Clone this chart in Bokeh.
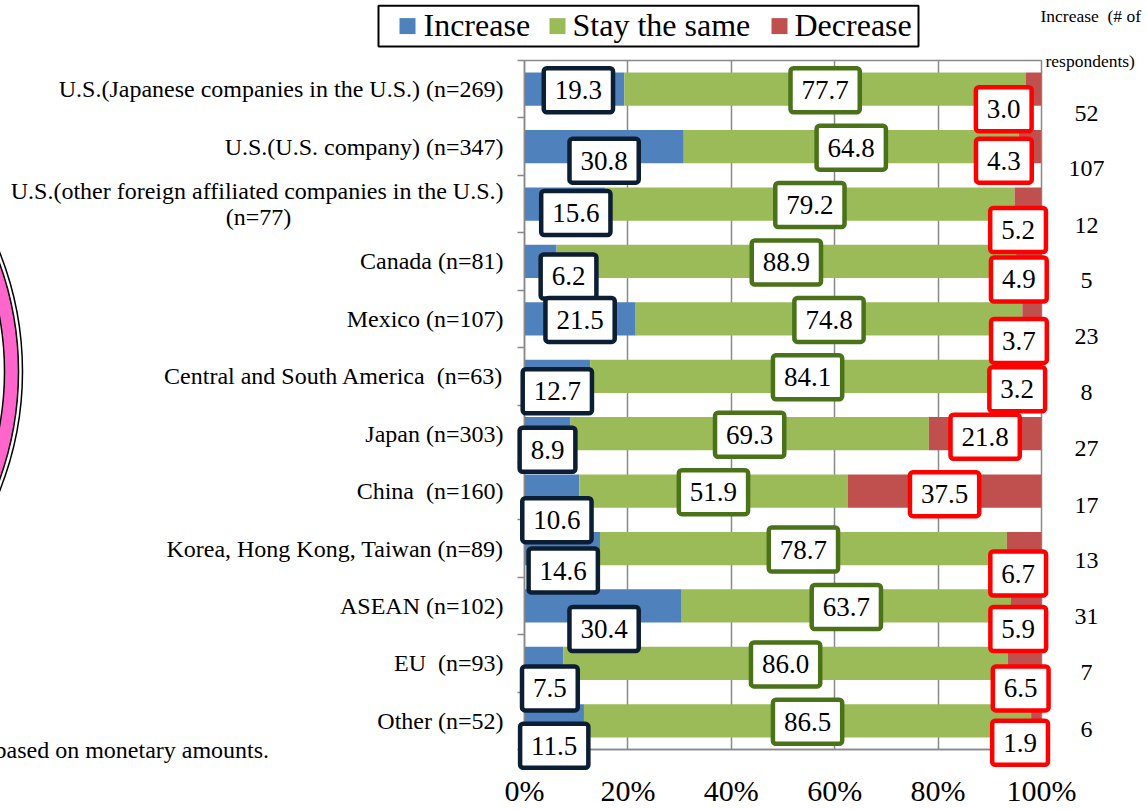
import numpy as np
from bokeh.plotting import figure
from bokeh.models import ColumnDataSource, Range1d, FixedTicker
from bokeh.core.properties import value
from bokeh.embed import file_html
from bokeh.resources import INLINE

# ---- data -------------------------------------------------------------
categories = [
    "U.S.(Japanese companies in the U.S.) (n=269)",
    "U.S.(U.S. company) (n=347)",
    "U.S.(other foreign affiliated companies in the U.S.)\n(n=77)",
    "Canada (n=81)",
    "Mexico (n=107)",
    "Central and South America  (n=63)",
    "Japan (n=303)",
    "China  (n=160)",
    "Korea, Hong Kong, Taiwan (n=89)",
    "ASEAN (n=102)",
    "EU  (n=93)",
    "Other (n=52)",
]
increase = [19.3, 30.8, 15.6, 6.2, 21.5, 12.7, 8.9, 10.6, 14.6, 30.4, 7.5, 11.5]
stay_same = [77.7, 64.8, 79.2, 88.9, 74.8, 84.1, 69.3, 51.9, 78.7, 63.7, 86.0, 86.5]
decrease = [3.0, 4.3, 5.2, 4.9, 3.7, 3.2, 21.8, 37.5, 6.7, 5.9, 6.5, 1.9]
respondents_increase = [52, 107, 12, 5, 23, 8, 27, 17, 13, 31, 7, 6]
x_ticks = [0, 20, 40, 60, 80, 100]
x_tick_labels = ["0%", "20%", "40%", "60%", "80%", "100%"]
series_names = ["Increase", "Stay the same", "Decrease"]

# ---- label nudges (pixels) so the boxed values do not collide ---------
inc_dx = [4, 0, 11, 28, 0, 0, 0, 5, 1, 1, 6, 0]
inc_dy = [1, 14, 9, 15, 1, 15, 16, 29, 22, 23, 25, 25]
stay_dx = [0] * 12
stay_dy = [1] * 12
dec_dx = [-30, -26, -10, -10, -13, -16, 0, 0, -6, -8, -4, -16]
dec_dy = [20, 14, 26, 18, 22, 13, 3, 3, 25, 23, 25, 22]
resp_dy = [24, 22, 21, 19, 18, 16, 15, 14, 12, 11, 9, 9]

# ---- layout -----------------------------------------------------------
SERIF = value("Liberation Serif")
W, H = 1147, 809
LEFT, RIGHT, TOP, BOTTOM = 524, 106, 60, 58
frame_w = W - LEFT - RIGHT
frame_h = H - TOP - BOTTOM
n = len(categories)
band_px = frame_h / n
px = 100.0 / frame_w          # data units per horizontal pixel


def sx(x_pix):
    """canvas pixel column -> data x"""
    return (x_pix - LEFT) * px


def sy(y_pix):
    """canvas pixel row -> data y (rows count downward)"""
    return (y_pix - TOP) / band_px


def keep_spaces(s):
    # SVG collapses runs of spaces; keep the wider gaps visible
    return s.replace("  ", " \u00a0")


COLORS = ["#4f81bd", "#9bbb59", "#c0504d"]
BOX_COLORS = ["#0c1e33", "#4a7219", "#ff0000"]
GRID = "#898989"

p = figure(width=W, height=H, x_range=Range1d(0, 100), y_range=Range1d(n, 0),
           output_backend="svg", toolbar_location=None,
           min_border_left=LEFT, min_border_right=RIGHT,
           min_border_top=TOP, min_border_bottom=BOTTOM)
p.outline_line_color = GRID
p.outline_line_width = 1.5
p.background_fill_color = "white"
p.border_fill_color = "white"

rows = np.arange(n) + 0.5
inc = np.array(increase)
sty = np.array(stay_same)
dec = np.array(decrease)
lefts = [np.zeros(n), inc, inc + sty]
rights = [inc, inc + sty, inc + sty + dec]
values = [inc, sty, dec]
dxs = [inc_dx, stay_dx, dec_dx]
dys = [inc_dy, stay_dy, dec_dy]

for k in range(3):
    src = ColumnDataSource(dict(y=rows, left=lefts[k], right=rights[k]))
    p.hbar(y="y", left="left", right="right", height=0.58, source=src,
           fill_color=COLORS[k], line_color=None)

# boxed value labels
for k in range(3):
    src = ColumnDataSource(dict(
        x=(lefts[k] + rights[k]) / 2, y=rows,
        text=[f"{v:.1f}" for v in values[k]],
        dx=dxs[k], dy=dys[k]))
    p.text(x="x", y="y", text="text", x_offset="dx", y_offset="dy", source=src,
           text_font=SERIF, text_font_size="27px", text_color="black",
           text_align="center", text_baseline="middle",
           background_fill_color="white", border_line_color=BOX_COLORS[k],
           border_line_width=4.5, padding=(11, 13), border_radius=3,
           level="overlay")

# axes
p.xaxis.ticker = FixedTicker(ticks=x_ticks)
p.xaxis.major_label_overrides = {t: s for t, s in zip(x_ticks, x_tick_labels)}
p.xaxis.major_label_text_font = "Liberation Serif"
p.xaxis.major_label_text_font_size = "30px"
p.xaxis.major_label_text_color = "black"
p.xaxis.major_label_standoff = 24
p.xaxis.major_tick_out = 0
p.xaxis.major_tick_in = 0
p.xaxis.minor_tick_line_color = None
p.xaxis.axis_line_color = GRID
p.xaxis.axis_line_width = 1.5

p.yaxis.ticker = FixedTicker(ticks=list(range(n + 1)))
p.yaxis.major_label_overrides = {i: "" for i in range(n + 1)}
p.yaxis.major_tick_out = 7
p.yaxis.major_tick_in = 0
p.yaxis.major_tick_line_color = GRID
p.yaxis.major_tick_line_width = 1.5
p.yaxis.minor_tick_line_color = None
p.yaxis.axis_line_color = GRID
p.yaxis.axis_line_width = 1.5

p.xgrid.grid_line_color = GRID
p.xgrid.grid_line_width = 1.5
p.ygrid.visible = False

TXT = dict(text_font=SERIF, text_color="black", text_baseline="middle",
           level="overlay")

# category labels (right aligned against the axis; two-line names stacked)
cat_x, cat_y, cat_t, cat_dy, cat_align = [], [], [], [], []
for c, r in zip(categories, rows):
    if "\n" in c:
        first, second = c.split("\n")
        cat_x += [0, sx(258)]
        cat_y += [r, r]
        cat_t += [keep_spaces(first), keep_spaces(second)]
        cat_dy += [-13.3, 13.3]
        cat_align += ["right", "center"]
    else:
        cat_x.append(0)
        cat_y.append(r)
        cat_t.append(keep_spaces(c))
        cat_dy.append(0)
        cat_align.append("right")
cat_dx = [-21 if a == "right" else 0 for a in cat_align]
p.text(x="x", y="y", text="t", x_offset="dx", y_offset="dy", text_align="align",
       source=ColumnDataSource(dict(x=cat_x, y=cat_y, t=cat_t, dx=cat_dx,
                                    dy=cat_dy, align=cat_align)),
       text_font_size="24px", **TXT)

# respondents column on the right
p.text(x="x", y="y", text="t", y_offset="dy",
       source=ColumnDataSource(dict(x=[sx(1086)] * n, y=rows, dy=resp_dy,
                                    t=[str(v) for v in respondents_increase])),
       text_font_size="24px", text_align="center", **TXT)
p.text(x=[sx(1040), sx(1045)], y=[sy(15), sy(61)],
       text=[keep_spaces("Increase  (# of"), "respondents)"],
       text_font_size="17.5px", text_align="left", **TXT)

# footnote fragment
p.text(x=[sx(-6)], y=[sy(752)], text=["based on monetary amounts."],
       text_font_size="24px", text_align="left", **TXT)

# decorative ring at the left edge
cx, cy = sx(-301), sy(372)
p.annulus(x=[cx], y=[cy], inner_radius=305, outer_radius=319,
          inner_radius_units="screen", outer_radius_units="screen",
          fill_color="#ff66cc", line_color="black", line_width=1.5, level="overlay")
p.circle(x=[cx], y=[cy], radius=323, radius_units="screen", fill_color=None,
         line_color="black", line_width=1.5, level="overlay")

# legend, drawn with glyphs so it can sit above the plot frame
leg_box = dict(left=378, right=918, top=5, bottom=46)
leg_swatch_x = [407, 557, 779]
leg_text_x = [423, 572, 794]
leg_y = (leg_box["top"] + leg_box["bottom"]) / 2
half_sw = 8
p.quad(left=[sx(leg_box["left"])], right=[sx(leg_box["right"])],
       top=[sy(leg_box["top"])], bottom=[sy(leg_box["bottom"])],
       fill_color="white", line_color="black", line_width=2, level="overlay")
p.quad(left="l", right="r", top="t", bottom="b", fill_color="c", line_color=None,
       level="overlay",
       source=ColumnDataSource(dict(
           l=[sx(v - half_sw) for v in leg_swatch_x],
           r=[sx(v + half_sw) for v in leg_swatch_x],
           t=[sy(leg_y - half_sw)] * 3, b=[sy(leg_y + half_sw)] * 3, c=COLORS)))
p.text(x=[sx(v) for v in leg_text_x], y=[sy(leg_y - 1)] * 3, text=series_names,
       text_font_size="32px", text_align="left", **TXT)

open("out.html", "w").write(file_html(p, INLINE))
